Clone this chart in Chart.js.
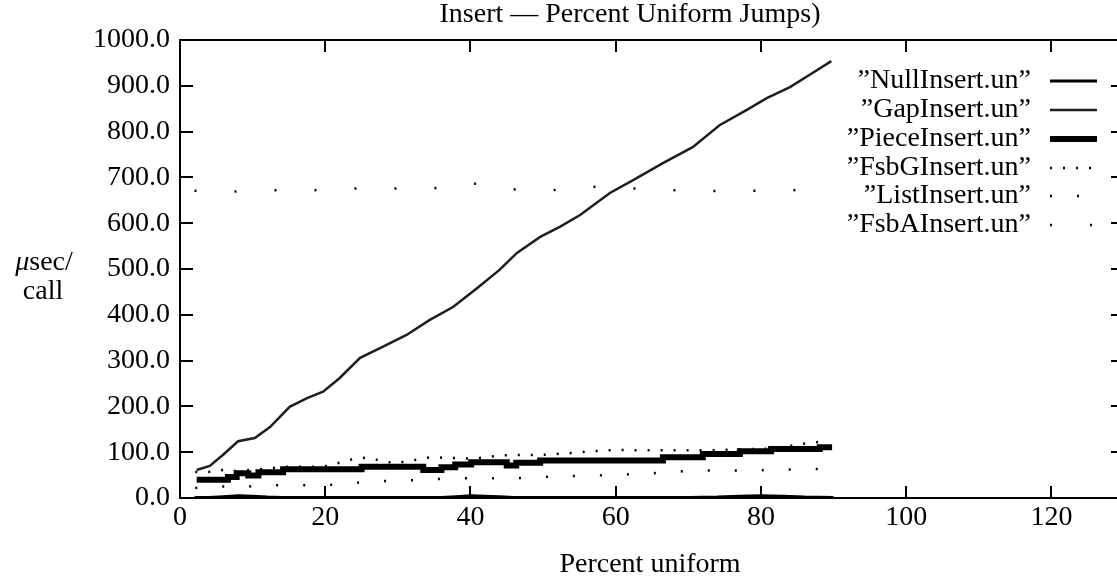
<!DOCTYPE html>
<html>
<head>
<meta charset="utf-8">
<script src="https://cdn.jsdelivr.net/npm/chart.js@4.4.0/dist/chart.umd.min.js"></script>
<style>
  html, body { margin: 0; padding: 0; background: #fff; overflow: hidden; width: 1117px; height: 581px; }
  #wrap { width: 1125px; height: 581px; }
</style>
</head>
<body>
<div id="wrap"><canvas id="chart" width="1125" height="581"></canvas></div>
<script>
// values (x = percent uniform, y = usec per call)
const nullX = [2, 4, 6, 8, 10, 12, 14, 30, 36, 38, 40, 42, 44, 46, 70, 74, 77, 80, 83, 86, 90];
const nullY = [1, 1, 3, 5, 4, 2, 1, 1, 1, 3, 5, 4, 3, 1, 1, 2, 4, 5, 4, 2, 1];

const gapX = [2.3, 4.1, 5.9, 8, 10.3, 12.4, 15.1, 17.5, 19.7, 22, 24.8, 27.9, 31.2, 34.4, 37.6, 40.9, 44, 46.4,
              49.6, 52.3, 55.1, 59.2, 62.4, 66.5, 70.6, 74.3, 78, 80.8, 84, 87.1, 89.7];
const gapY = [61, 70, 94, 124, 131, 155, 199, 218, 232, 262, 306, 330, 356, 389, 417, 458, 498, 535,
              570, 592, 618, 666, 694, 731, 766, 814, 847, 873, 897, 928, 954];

// step starts for PieceInsert
const pieceX = [2.3, 6.6, 7.8, 9.4, 10.8, 14.2, 25, 33.5, 36, 37.9, 40.1, 45, 46.3, 49.6, 66.5, 72, 77.1, 81.4, 88.1, 89.8];
const pieceY = [40, 46, 54, 49, 56, 63, 68, 61, 67, 73, 78, 71, 77, 82, 89, 96, 102, 107, 111, 111];

const fsbgX = [2.1, 3.9, 5.7, 7.6, 9.4, 11.2, 13.1, 14.7, 16.8, 18.4, 20.2, 22, 23.8, 25.5, 27.3, 29.1, 31, 32.7,
               34.5, 36.2, 38.1, 39.9, 41.7, 43.6, 45.4, 49.8, 52.8, 54.6, 56.4, 58, 60, 65.5, 72.9, 76, 78.4,
               82, 83.8, 85.6, 87.4, 89.2];
const fsbgY = [57, 57, 61, 59, 61, 63, 66, 68, 68, 68, 70, 77, 85, 88, 83, 77, 79, 84,
               89, 88, 87, 86, 88, 92, 94, 94, 97, 99, 102, 103, 105, 104, 104, 106, 107,
               108, 113, 118, 121, 125];

const listX = [2.1, 5.6, 9.3, 13.1, 16.6, 20.2, 23.9, 27.6, 31.2, 34.9, 38.5, 42.2, 45.9, 49.6, 53.3, 56.9,
               60.5, 64.2, 67.8, 71.4, 75.1, 78.6, 82.4, 86, 89.7];
const listY = [22, 25, 25, 28, 28, 28, 33, 37, 38, 41, 43, 43, 43, 46, 48, 49,
               51, 53, 57, 60, 60, 60, 62, 63, 64];

const fsbaX = [2, 7.5, 12.9, 18.3, 23.8, 29.4, 34.9, 40.3, 45.7, 51.2, 56.7, 62.3, 67.6, 73, 78.6, 84.1, 89.5];
const fsbaY = [671, 669, 672, 672, 676, 676, 676, 687, 674, 672, 680, 676, 672, 670, 671, 672, 675];

const yTicks = [0, 100, 200, 300, 400, 500, 600, 700, 800, 900, 1000];
const xTicks = [0, 20, 40, 60, 80, 100, 120];

const FONT = "'Liberation Serif', 'DejaVu Serif', serif";
const FS = 28;
const Q = '\u201D';

function pts(xs, ys) {
    return xs.map((x, i) => ({ x: x, y: ys[i] }));
}

const datasets = [
    { label: 'NullInsert.un', data: pts(nullX, nullY), borderColor: '#000', borderWidth: 3 },
    { label: 'GapInsert.un', data: pts(gapX, gapY), borderColor: '#1e1e1e', borderWidth: 2.5 },
    { label: 'PieceInsert.un', data: pts(pieceX, pieceY), borderColor: '#000', borderWidth: 6, stepped: 'before' },
    { label: 'FsbGInsert.un', data: pts(fsbgX, fsbgY), borderColor: '#000', borderWidth: 2.5, borderDash: [2, 11] },
    { label: 'ListInsert.un', data: pts(listX, listY), borderColor: '#000', borderWidth: 2.5, borderDash: [2, 25] },
    { label: 'FsbAInsert.un', data: pts(fsbaX, fsbaY), borderColor: '#000', borderWidth: 2.5, borderDash: [2, 38] }
];
datasets.forEach(d => { d.pointRadius = 0; d.fill = false; d.tension = 0; d.borderCapStyle = 'butt'; });

const framePlugin = {
    id: 'frame',
    afterDatasetsDraw(chart) {
        const ctx = chart.ctx;
        const a = chart.chartArea;
        const xs = chart.scales.x, ys = chart.scales.y;
        ctx.save();
        ctx.strokeStyle = '#000';
        ctx.lineWidth = 2;
        ctx.setLineDash([]);
        ctx.strokeRect(a.left, a.top, a.right - a.left, a.bottom - a.top);
        ctx.beginPath();
        yTicks.forEach(v => {
            const py = Math.round(ys.getPixelForValue(v));
            ctx.moveTo(a.left, py); ctx.lineTo(a.left + 13, py);
            ctx.moveTo(a.right, py); ctx.lineTo(a.right - 13, py);
        });
        xTicks.forEach(v => {
            const px = Math.round(xs.getPixelForValue(v));
            ctx.moveTo(px, a.bottom); ctx.lineTo(px, a.bottom - 12);
            ctx.moveTo(px, a.top); ctx.lineTo(px, a.top + 12);
        });
        ctx.stroke();

        ctx.fillStyle = '#000';
        ctx.textBaseline = 'middle';
        ctx.font = FS + 'px ' + FONT;
        ctx.textAlign = 'center';
        ctx.fillText('Insert \u2014 Percent Uniform Jumps)', 630, 15);
        ctx.fillText('Percent uniform', 650, 565);

        // y title: italic mu + sec/
        ctx.font = 'italic ' + FS + 'px ' + FONT;
        const w1 = ctx.measureText('\u03BC').width;
        ctx.font = FS + 'px ' + FONT;
        const w2 = ctx.measureText('sec/').width;
        const sx = 44 - (w1 + w2) / 2;
        ctx.textAlign = 'left';
        ctx.font = 'italic ' + FS + 'px ' + FONT;
        ctx.fillText('\u03BC', sx, 263);
        ctx.font = FS + 'px ' + FONT;
        ctx.fillText('sec/', sx + w1, 263);
        ctx.textAlign = 'center';
        ctx.fillText('call', 43, 292);

        // legend
        const rows = [81, 110, 139, 168, 196, 225];
        chart.data.datasets.forEach((d, i) => {
            const ry = rows[i];
            ctx.textAlign = 'right';
            ctx.fillStyle = '#000';
            ctx.fillText(Q + d.label + Q, 1031, ry);
            ctx.beginPath();
            ctx.strokeStyle = d.borderColor;
            ctx.lineWidth = d.borderWidth;
            ctx.lineCap = 'butt';
            ctx.setLineDash(d.borderDash || []);
            ctx.moveTo(1050, ry);
            ctx.lineTo(1097, ry);
            ctx.stroke();
        });
        ctx.restore();
    }
};

new Chart(document.getElementById('chart').getContext('2d'), {
    type: 'line',
    data: { datasets: datasets },
    options: {
        responsive: false,
        animation: false,
        layout: { padding: { top: 40, right: 1, left: 0, bottom: 0 } },
        plugins: { legend: { display: false }, tooltip: { enabled: false }, title: { display: false } },
        scales: {
            x: {
                type: 'linear', min: 0, max: 130,
                afterBuildTicks: s => { s.ticks = xTicks.map(v => ({ value: v })); },
                afterFit: s => { s.height = 83; },
                grid: { display: false, drawTicks: false },
                border: { display: false },
                ticks: { color: '#000', padding: 3, maxRotation: 0, font: { family: FONT, size: FS } }
            },
            y: {
                min: 0, max: 1000,
                afterBuildTicks: s => { s.ticks = yTicks.map(v => ({ value: v })); },
                afterFit: s => { s.width = 180; },
                grid: { display: false, drawTicks: false },
                border: { display: false },
                ticks: { color: '#000', padding: 10, font: { family: FONT, size: FS },
                         callback: v => v.toFixed(1) }
            }
        }
    },
    plugins: [framePlugin]
});
</script>
</body>
</html>
